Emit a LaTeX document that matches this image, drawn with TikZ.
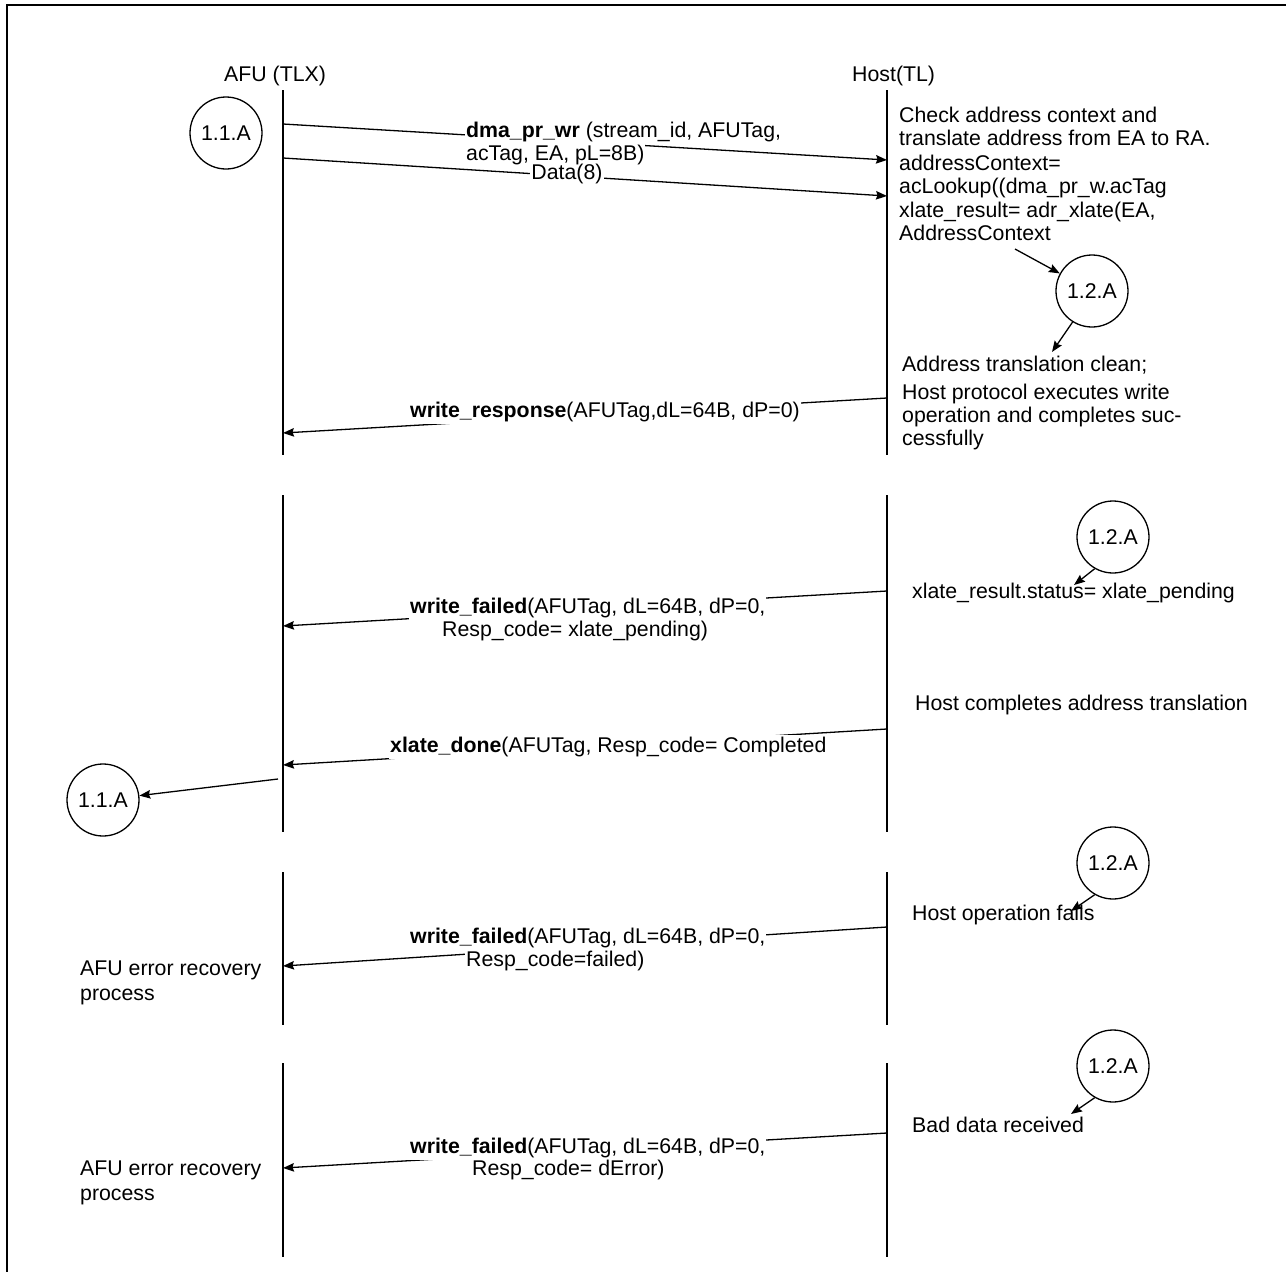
\documentclass[tikz,border=0pt]{standalone}
\usepackage{fontspec}
\setmainfont{Liberation Sans}
\usetikzlibrary{arrows.meta}
\newcommand\dfs{\fontsize{21.3}{24}\selectfont}
\tikzset{
  lifeline/.style={line width=1.8pt},
  msg/.style={line width=1.3pt,-{Stealth[length=11pt,width=8.5pt,inset=1.5pt]}},
  lbl/.style={fill=white,inner sep=1pt,text height=16pt,text depth=6pt,font=\dfs},
  txt/.style={inner sep=0pt,anchor=base west,font=\dfs},
  circ/.style={circle,draw,line width=1.3pt,minimum size=72pt,inner sep=0pt,font=\dfs},
}
\begin{document}
\begin{tikzpicture}[x=1pt,y=-1pt]
\useasboundingbox (0,0) rectangle (1286,1272);
% frame (top and left edges)
\draw[line width=2pt] (7,1272) -- (7,5) -- (1286,5);

% headers
\node[txt] (hafu) at (224,81) {AFU (TLX)};
\node[txt] (hhost) at (852,81) {Host(TL)};

% lifelines
\foreach \n/\t/\b in {1/90/455,2/495/832,3/872/1025,4/1063/1257}{
  \coordinate (at\n) at (283,\t); \coordinate (ab\n) at (283,\b);
  \coordinate (ht\n) at (887,\t); \coordinate (hb\n) at (887,\b);
  \draw[lifeline] (at\n) -- (ab\n);
  \draw[lifeline] (ht\n) -- (hb\n);
}

% ---------- section 1 ----------
\node[circ] (cA1) at (226,133) {1.1.A};
\coordinate (m1s) at (283,124); \coordinate (m1e) at (887,160);
\draw[msg] (m1s) -- (m1e);
\coordinate (m2s) at (283,158); \coordinate (m2e) at (887,196);
\draw[msg] (m2s) -- (m2e);
\node[lbl,anchor=base west] (l1a) at (465,137) {\textbf{dma\_pr\_wr} (stream\_id, AFUTag,};
\node[lbl,anchor=base west,text depth=4pt] (l1b) at (465,160) {acTag, EA, pL=8B)};
\node[lbl,anchor=base,text height=8pt,text depth=5pt] (l2) at (567,179) {Data(8)};

\node[txt] (t1) at (899,122) {Check address context and};
\node[txt] (t2) at (899,145) {translate address from EA to RA.};
\node[txt] (t3) at (899,170) {addressContext=};
\node[txt] (t4) at (899,193) {acLookup((dma\_pr\_w.acTag};
\node[txt] (t5) at (899,217) {xlate\_result= adr\_xlate(EA,};
\node[txt] (t6) at (899,240) {AddressContext};
\node[circ] (cB1) at (1092,291) {1.2.A};
\coordinate (k1) at (1015,249);
\draw[msg] (k1) -- (cB1);
\node[txt] (t7) at (902,371) {Address translation clean;};
\coordinate (k2) at (1052,352);
\draw[msg] (cB1.238) -- (k2);
\node[txt] (t8) at (902,399) {Host protocol executes write};
\node[txt] (t9) at (902,422) {operation and completes suc-};
\node[txt] (t10) at (902,445) {cessfully};

\coordinate (m3s) at (887,398); \coordinate (m3e) at (283,433);
\draw[msg] (m3s) -- (m3e);
\node[lbl,anchor=base west] (l3) at (409,417) {\textbf{write\_response}(AFUTag,dL=64B, dP=0)};

% ---------- section 2 ----------
\node[circ] (cB2) at (1113,537) {1.2.A};
\node[txt] (t11) at (912,598) {xlate\_result.status= xlate\_pending};
\coordinate (k3) at (1074,585);
\draw[msg] (cB2.240) -- (k3);
\coordinate (m4s) at (887,591); \coordinate (m4e) at (283,626);
\draw[msg] (m4s) -- (m4e);
\node[lbl,anchor=base west] (l4a) at (409,613) {\textbf{write\_failed}(AFUTag, dL=64B, dP=0,};
\node[lbl,anchor=base west] (l4b) at (441,636) {Resp\_code= xlate\_pending)};

\node[txt] (t12) at (915,710) {Host completes address translation};
\coordinate (m5s) at (887,729); \coordinate (m5e) at (283,765);
\draw[msg] (m5s) -- (m5e);
\node[lbl,anchor=base west] (l5) at (389,752) {\textbf{xlate\_done}(AFUTag, Resp\_code= Completed};

\node[circ] (cA2) at (103,800) {1.1.A};
\coordinate (m6s) at (278,779);
\draw[msg] (m6s) -- (cA2);

% ---------- section 3 ----------
\node[circ] (cB3) at (1113,863) {1.2.A};
\node[txt] (t13) at (912,920) {Host operation fails};
\coordinate (k4) at (1071,911);
\draw[msg] (cB3.240) -- (k4);
\coordinate (m7s) at (887,927); \coordinate (m7e) at (283,966);
\draw[msg] (m7s) -- (m7e);
\node[lbl,anchor=base west] (l7a) at (409,943) {\textbf{write\_failed}(AFUTag, dL=64B, dP=0,};
\node[lbl,anchor=base west] (l7b) at (465,966) {Resp\_code=failed)};
\node[txt] (t14) at (80,975) {AFU error recovery};
\node[txt] (t15) at (80,1000) {process};

% ---------- section 4 ----------
\node[circ] (cB4) at (1113,1066) {1.2.A};
\node[txt] (t16) at (912,1132) {Bad data received};
\coordinate (k5) at (1071,1114);
\draw[msg] (cB4.240) -- (k5);
\coordinate (m8s) at (887,1133); \coordinate (m8e) at (283,1168);
\draw[msg] (m8s) -- (m8e);
\node[lbl,anchor=base west] (l8a) at (409,1153) {\textbf{write\_failed}(AFUTag, dL=64B, dP=0,};
\node[lbl,anchor=base west] (l8b) at (471,1175) {Resp\_code= dError)};
\node[txt] (t17) at (80,1175) {AFU error recovery};
\node[txt] (t18) at (80,1200) {process};
\end{tikzpicture}
\end{document}
